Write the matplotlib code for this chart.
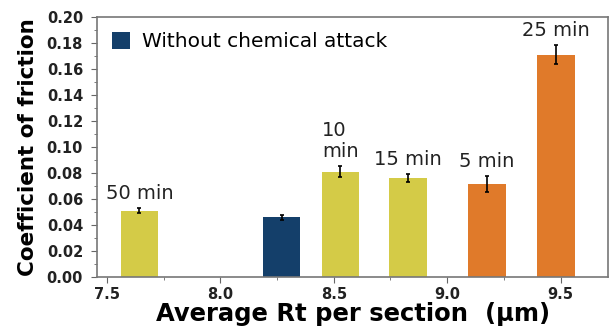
import matplotlib
matplotlib.use("Agg")
import matplotlib.pyplot as plt
from matplotlib.ticker import MultipleLocator, FormatStrFormatter

plt.rcParams['font.family'] = ['DejaVu Sans']

rt = [7.643, 8.27, 8.529, 8.828, 9.175, 9.48]
cof = [0.051, 0.046, 0.081, 0.076, 0.0715, 0.171]
err = [0.002, 0.002, 0.004, 0.003, 0.006, 0.007]
labels = ["50 min", "", "10\nmin", "15 min", "5 min", "25 min"]
groups = ["yellow", "blue", "yellow", "yellow", "orange", "orange"]

colors = {"yellow": "#D4CB47", "blue": "#143F6A", "orange": "#E07A2A"}

fig = plt.figure(figsize=(6.10, 3.31), dpi=100)
ax = fig.add_axes([0.159, 0.163, 0.838, 0.786])

for x, y, e, g in zip(rt, cof, err, groups):
    ax.bar(x, y, width=0.165, color=colors[g], zorder=2)
    ax.errorbar(x, y, yerr=e, color="black", capsize=1.5, elinewidth=1.2, capthick=1.2, zorder=3)

for x, y, e, lab in zip(rt, cof, err, labels):
    if lab:
        ax.annotate(lab, (x, y + e), xytext=(0, 4), textcoords="offset points",
                    ha="center", va="bottom", fontsize=14, color="#222222",
                    linespacing=1.15, multialignment="left")

ax.bar([0], [0], color=colors["blue"], label="Without chemical attack")
ax.legend(loc="upper left", frameon=False, fontsize=14.5, handlelength=0.9, handleheight=0.9,
          handletextpad=0.6, bbox_to_anchor=(0.0, 1.0), borderaxespad=0.35)

ax.set_xlim(7.456, 9.71)
ax.set_ylim(0, 0.20)
ax.xaxis.set_major_locator(MultipleLocator(0.5))
ax.xaxis.set_minor_locator(MultipleLocator(0.25))
ax.yaxis.set_major_locator(MultipleLocator(0.02))
ax.yaxis.set_minor_locator(MultipleLocator(0.01))
ax.yaxis.set_major_formatter(FormatStrFormatter("%.2f"))
ax.xaxis.set_major_formatter(FormatStrFormatter("%.1f"))

for lab in ax.get_xticklabels() + ax.get_yticklabels():
    lab.set_fontweight("bold")
    lab.set_color("#222222")
ax.tick_params(axis="both", which="major", labelsize=10.5, length=4, color="#666666", direction="out")
ax.tick_params(axis="y", which="major", pad=6)
ax.tick_params(axis="both", which="minor", length=2, color="#666666", direction="out")

for s in ax.spines.values():
    s.set_color("#777777")
    s.set_linewidth(1.2)

ax.set_xlabel("Average Rt per section  (µm)", fontsize=17.5, fontweight="bold", labelpad=0)
ax.set_ylabel("Coefficient of friction", fontsize=15.5, fontweight="bold", labelpad=6)

fig.savefig("out.png", dpi=100)
